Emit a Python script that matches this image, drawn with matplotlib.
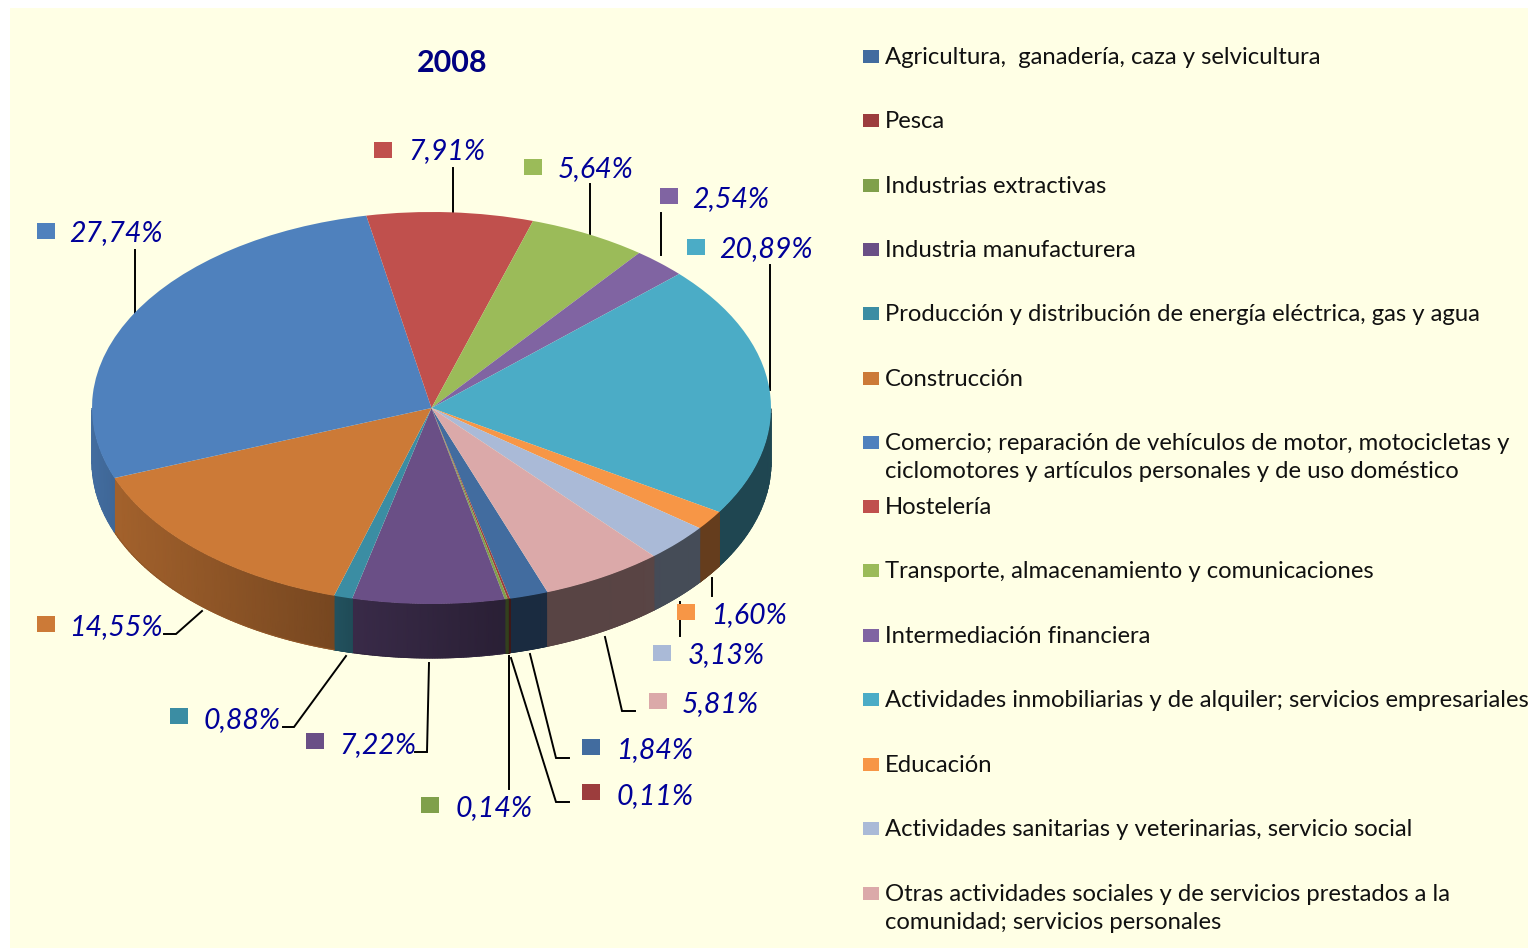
"""Sector shares 2008, tilted pie with a side wall."""

import matplotlib
matplotlib.use("Agg")
import matplotlib.pyplot as plt
import numpy as np
from matplotlib.patches import Rectangle
from matplotlib.transforms import Affine2D

plt.rcParams["font.family"] = ["Lato", "DejaVu Sans"]

sectors = [
    "Agricultura,  ganadería, caza y selvicultura",
    "Pesca",
    "Industrias extractivas",
    "Industria manufacturera",
    "Producción y distribución de energía eléctrica, gas y agua",
    "Construcción",
    "Comercio; reparación de vehículos de motor, motocicletas y\nciclomotores y artículos personales y de uso doméstico",
    "Hostelería",
    "Transporte, almacenamiento y comunicaciones",
    "Intermediación financiera",
    "Actividades inmobiliarias y de alquiler; servicios empresariales",
    "Educación",
    "Actividades sanitarias y veterinarias, servicio social",
    "Otras actividades sociales y de servicios prestados a la\ncomunidad; servicios personales",
]
shares = [1.84, 0.11, 0.14, 7.22, 0.88, 14.55, 27.74, 7.91, 5.64, 2.54, 20.89, 1.60, 3.13, 5.81]
colors = ["#426C9F", "#9C3D3D", "#80A04B", "#6A4F86", "#3B8DA3", "#CC7A37", "#4F81BD",
          "#C0504D", "#9BBB59", "#8064A2", "#4BACC6", "#F79646", "#AABAD7", "#DBA9A9"]

# layout, in pixels of the 1528x950 picture
CX, CY, RX, RY, DEPTH = 431.5, 408, 339.5, 196, 54
START = -70
key_xy = [(582, 747), (582, 792), (421, 805), (306, 741), (170, 716), (37, 624), (37, 231),
          (374, 150), (524, 167), (660, 196), (687, 247), (677, 612), (653, 653), (649, 701)]
label_x = [616, 617, 456, 339, 204, 69, 69, 408, 558, 692, 719, 711, 688, 682]
label_y = [750, 796, 808, 745, 720, 627, 233, 151, 169, 199, 249, 615, 655, 704]
leaders = [
    [(530, 654), (556, 758), (569, 758)],
    [(511, 658), (556, 802), (569, 802)],
    [(508.5, 656), (508.5, 789)],
    [(429, 663), (427, 752), (415, 752)],
    [(346, 656), (294, 727), (283, 727)],
    [(202, 611), (176, 634), (164, 634)],
    [(135, 250), (135, 316)],
    [(453, 168), (453, 212)],
    [(590, 184), (590, 236)],
    [(661, 213), (661, 255)],
    [(770, 265), (770, 390)],
    [(712, 578), (712, 596)],
    [(680, 602), (680, 636)],
    [(605, 637), (622, 711), (635, 711)],
]
legend_y = [56, 120, 185, 249, 313, 378, 442, 506, 570, 635, 699, 764, 828, 893]
# how dark the wall gets along x
shade_x = [92, 114, 335, 350, 500, 771]
shade_f = [0.84, 0.80, 0.58, 0.54, 0.40, 0.41]

fig = plt.figure(figsize=(15.28, 9.5), dpi=100, facecolor="white")
ax = fig.add_axes([0, 0, 1, 1])

wedges, _ = ax.pie(shares, colors=colors, startangle=START, counterclock=False,
                   wedgeprops={"linewidth": 0})
ax.set_aspect("auto")
ax.set_xlim(0, 1528)
ax.set_ylim(950, 0)
ax.axis("off")

ax.add_patch(Rectangle((10, 8), 1518, 940, facecolor="#FFFFE5", edgecolor="none", zorder=0))

squash = Affine2D().scale(RX, -RY).translate(CX, CY) + ax.transData
for w in wedges:
    w.set_transform(squash)
    w.set_zorder(3)

# side wall: a shaded mesh along the front half of each slice
edges = START - np.cumsum([0] + shares) * 3.6
for i, color in enumerate(colors):
    hi, lo = edges[i] % 360, edges[i + 1] % 360
    if lo > hi:
        hi += 360
    # only the part facing the viewer (180..360 degrees)
    angles = np.linspace(lo, hi, 60)
    angles = angles[(angles % 360 >= 180) | (angles == 360)]
    if lo < 180 < hi:
        angles = np.r_[180, angles]
    if len(angles) < 2:
        continue
    t = np.radians(angles)
    xs = CX + RX * np.cos(t)
    ys = CY - RY * np.sin(t)
    f = np.interp(xs, shade_x, shade_f)
    rgb = np.outer(f, matplotlib.colors.to_rgb(color))
    X = np.vstack([xs, xs])
    Y = np.vstack([ys, ys + DEPTH])
    C = np.stack([rgb, rgb])
    ax.pcolormesh(X, Y, C, shading="gouraud", zorder=2, rasterized=False)
    # soften the lower rim
    ax.plot(xs, ys + DEPTH, color=rgb[len(rgb) // 2], linewidth=0.8, zorder=2)

# leader lines, keys and labels
for pts in leaders:
    px, py = zip(*pts)
    ax.plot(px, py, color="black", linewidth=1.4, zorder=1, solid_joinstyle="miter")

for (kx, ky), lx, ly, color, v in zip(key_xy, label_x, label_y, colors, shares):
    ax.add_patch(Rectangle((kx, ky - 8), 18, 16, facecolor=color, edgecolor="none", zorder=4))
    ax.text(lx, ly, f"{v:.2f}%".replace(".", ","), fontsize=20.5, style="italic",
            color="#000099", ha="left", va="center", zorder=5)

ax.text(452, 63, "2008", fontsize=22, fontweight="bold", color="#000080",
        ha="center", va="center")

# legend
for name, y, color in zip(sectors, legend_y, colors):
    ax.add_patch(Rectangle((863, y - 6.5), 16, 13, facecolor=color, edgecolor="none"))
    ax.text(885, y - 9, name, fontsize=17.2, color="#111111", ha="left", va="top", linespacing=1.42)

fig.savefig("out.png", dpi=100, facecolor="white")
plt.close(fig)
